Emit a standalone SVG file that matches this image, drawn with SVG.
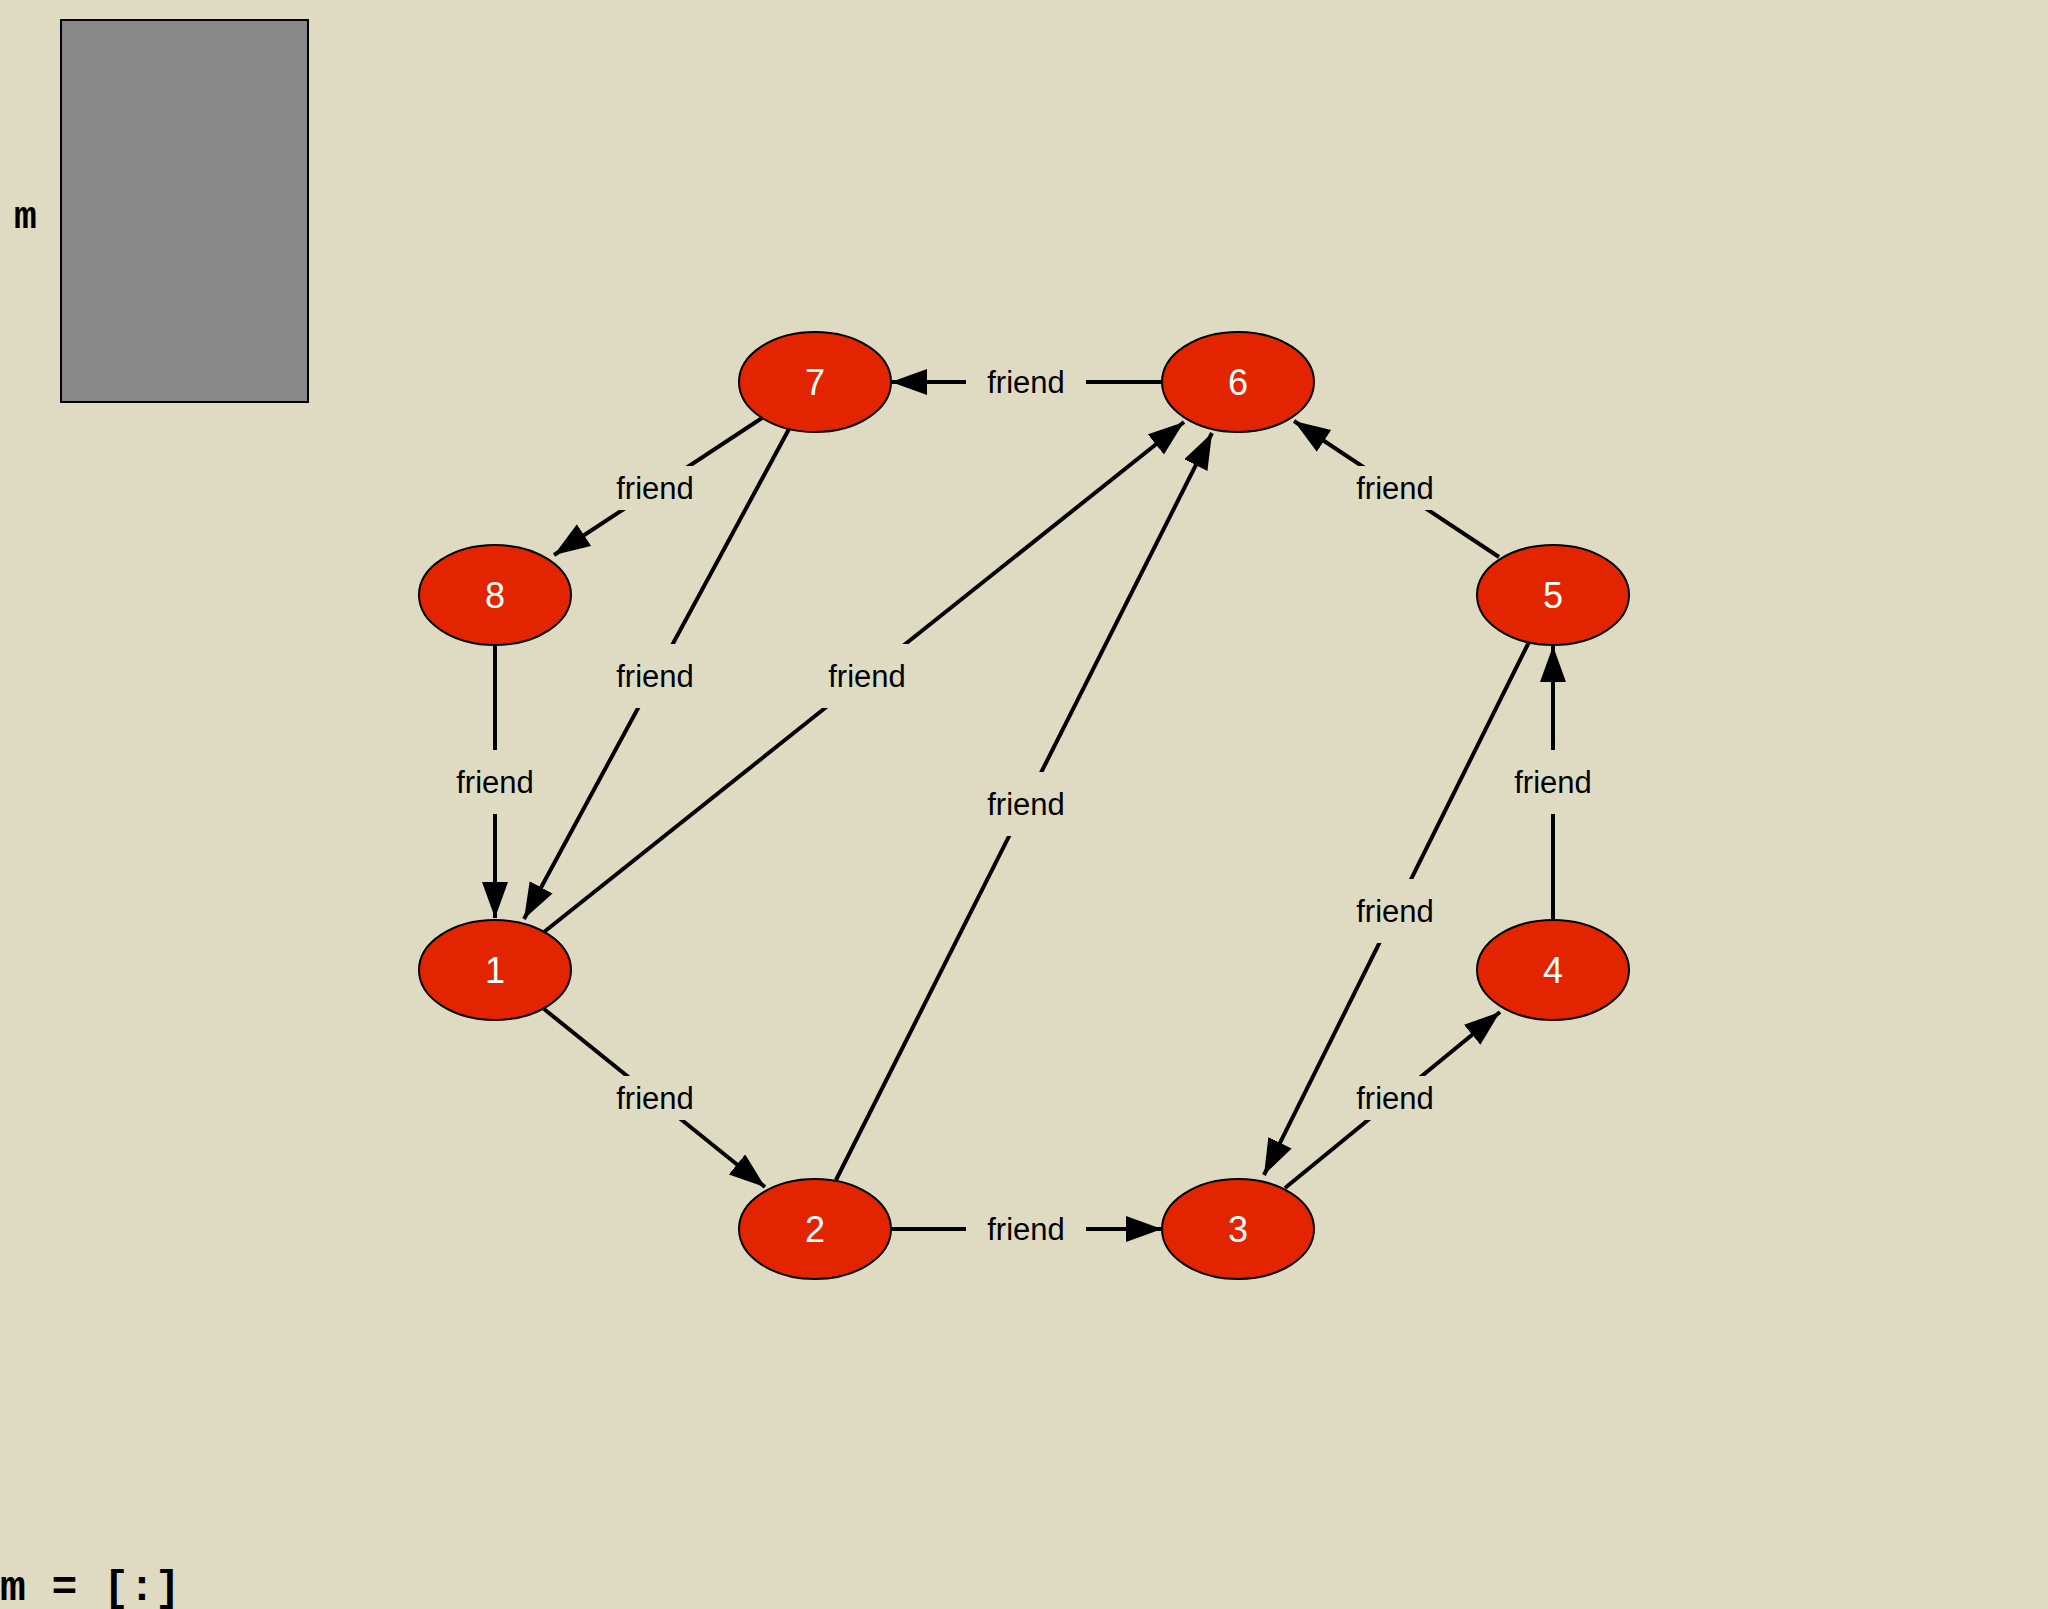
<svg xmlns="http://www.w3.org/2000/svg" width="2048" height="1609" viewBox="0 0 2048 1609">
<style>
.e{stroke:#000;stroke-width:4;fill:none;marker-end:url(#ah)}
.n ellipse{fill:#e32400;stroke:#000;stroke-width:2}
.n text{font-family:"Liberation Sans",Arial,sans-serif;font-size:36px;fill:#fff;text-anchor:middle;dominant-baseline:central}
.l rect{fill:#dfdbc3}
.l text{font-family:"Liberation Sans",Arial,sans-serif;font-size:31px;fill:#000;text-anchor:middle;dominant-baseline:central}
.mono{font-family:"Liberation Mono","Courier New",monospace;font-weight:bold;fill:#000}
</style>
<defs>
<marker id="ah" markerUnits="userSpaceOnUse" markerWidth="40" markerHeight="30" refX="36" refY="13" orient="auto"><path d="M0,0 L36,13 L0,26 Z" fill="#000"/></marker>
</defs>
<rect width="2048" height="1609" fill="#dfdbc3"/>
<rect x="61" y="20" width="247" height="382" fill="#888" stroke="#000" stroke-width="2"/>
<text class="mono" x="14" y="228" font-size="38">m</text>
<text class="mono" x="0" y="1600" font-size="43">m = [:]</text>
<g id="connectors">
<line class="e" x1="1162" y1="382" x2="891" y2="382"/>
<line class="e" x1="762" y1="418" x2="554" y2="555"/>
<line class="e" x1="789" y1="429" x2="524" y2="919"/>
<line class="e" x1="544" y1="932" x2="1184" y2="422"/>
<line class="e" x1="495" y1="644" x2="495" y2="918"/>
<line class="e" x1="836" y1="1180" x2="1212" y2="433"/>
<line class="e" x1="1499" y1="557" x2="1294" y2="421"/>
<line class="e" x1="1553" y1="920" x2="1553" y2="646"/>
<line class="e" x1="1529" y1="642" x2="1264" y2="1175"/>
<line class="e" x1="544" y1="1009" x2="765" y2="1187"/>
<line class="e" x1="1285" y1="1188" x2="1500" y2="1012"/>
<line class="e" x1="891" y1="1229" x2="1162" y2="1229"/>
<g class="l">
<rect x="966" y="360" width="120" height="44"/><text x="1026" y="382">friend</text>
<rect x="595" y="466" width="120" height="44"/><text x="655" y="488">friend</text>
<rect x="595" y="644" width="120" height="64"/><text x="655" y="676">friend</text>
<rect x="807" y="644" width="120" height="64"/><text x="867" y="676">friend</text>
<rect x="435" y="750" width="120" height="64"/><text x="495" y="782">friend</text>
<rect x="966" y="772" width="120" height="64"/><text x="1026" y="804">friend</text>
<rect x="1335" y="466" width="120" height="44"/><text x="1395" y="488">friend</text>
<rect x="1493" y="750" width="120" height="64"/><text x="1553" y="782">friend</text>
<rect x="1335" y="879" width="120" height="64"/><text x="1395" y="911">friend</text>
<rect x="595" y="1076" width="120" height="44"/><text x="655" y="1098">friend</text>
<rect x="1335" y="1076" width="120" height="44"/><text x="1395" y="1098">friend</text>
<rect x="966" y="1207" width="120" height="44"/><text x="1026" y="1229">friend</text>
</g>
</g>
<g id="n7" class="n"><ellipse cx="815" cy="382" rx="76" ry="50"/><text x="815" y="382">7</text></g>
<g id="n6" class="n"><ellipse cx="1238" cy="382" rx="76" ry="50"/><text x="1238" y="382">6</text></g>
<g id="n8" class="n"><ellipse cx="495" cy="595" rx="76" ry="50"/><text x="495" y="595">8</text></g>
<g id="n5" class="n"><ellipse cx="1553" cy="595" rx="76" ry="50"/><text x="1553" y="595">5</text></g>
<g id="n1" class="n"><ellipse cx="495" cy="970" rx="76" ry="50"/><text x="495" y="970">1</text></g>
<g id="n4" class="n"><ellipse cx="1553" cy="970" rx="76" ry="50"/><text x="1553" y="970">4</text></g>
<g id="n2" class="n"><ellipse cx="815" cy="1229" rx="76" ry="50"/><text x="815" y="1229">2</text></g>
<g id="n3" class="n"><ellipse cx="1238" cy="1229" rx="76" ry="50"/><text x="1238" y="1229">3</text></g>
</svg>
